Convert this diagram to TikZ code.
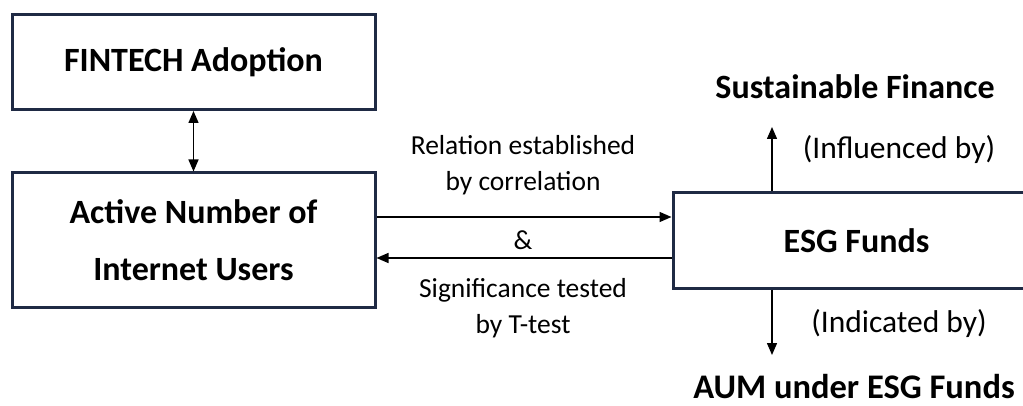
\documentclass[tikz,border=0pt]{standalone}
\usepackage{fontspec}
\setmainfont{Carlito}
\usetikzlibrary{arrows.meta,calc}
\definecolor{boxcol}{HTML}{1F2A44}
\tikzset{
  box/.style={draw=boxcol, line width=3pt, rectangle, inner sep=0pt, align=center,
    font=\bfseries\fontsize{34}{57}\selectfont, text=black},
  bold/.style={font=\bfseries\fontsize{34}{40}\selectfont, text=black, inner sep=0pt},
  lab/.style={font=\fontsize{27.5}{36}\selectfont, text=black, align=center, inner sep=0pt},
  plab/.style={font=\fontsize{31.5}{36}\selectfont, text=black, inner sep=0pt},
  arr/.style={line width=1.4pt, -{Triangle[length=12pt,width=10pt]}},
  darr/.style={line width=1.4pt, {Triangle[length=12pt,width=10pt]}-{Triangle[length=12pt,width=10pt]}}
}
\begin{document}
\begin{tikzpicture}[x=1pt,y=1pt]
\useasboundingbox (0,0) rectangle (1023,-406);
\clip (0,0) rectangle (1023,-406);
\node[box, minimum width=363pt, minimum height=95pt] (fin) at (193.5,-62) {FINTECH Adoption};
\node[box, minimum width=363pt, minimum height=134pt] (users) at (193.5,-240) {Active Number of\\Internet Users};
\node[box, minimum width=367pt, minimum height=95pt] (esg) at (856.5,-240.5) {ESG Funds};
\node[bold] (sf) at (855,-87) {Sustainable Finance};
\node[bold, font=\bfseries\fontsize{34.5}{40}\selectfont] (aum) at (854,-387) {AUM under ESG Funds};
\node[plab] (infl) at (899,-150) {(Influenced by)};
\node[plab] (indi) at (899,-324) {(Indicated by)};
\node[lab] (rel) at (523,-165) {Relation established\\by correlation};
\node[lab] (amp) at (523,-240) {\&};
\node[lab] (sig) at (523,-308) {Significance tested\\by T-test};
\coordinate (up) at (772,-127);
\coordinate (dn) at (772,-355);
\draw[darr] (fin.south) -- (users.north);
\draw[arr] (users.east |- 0,-217) -- (esg.west |- 0,-217);
\draw[arr] (esg.west |- 0,-258) -- (users.east |- 0,-258);
\draw[arr] (esg.north -| up) -- (up);
\draw[arr] (esg.south -| dn) -- (dn);
\end{tikzpicture}
\end{document}
